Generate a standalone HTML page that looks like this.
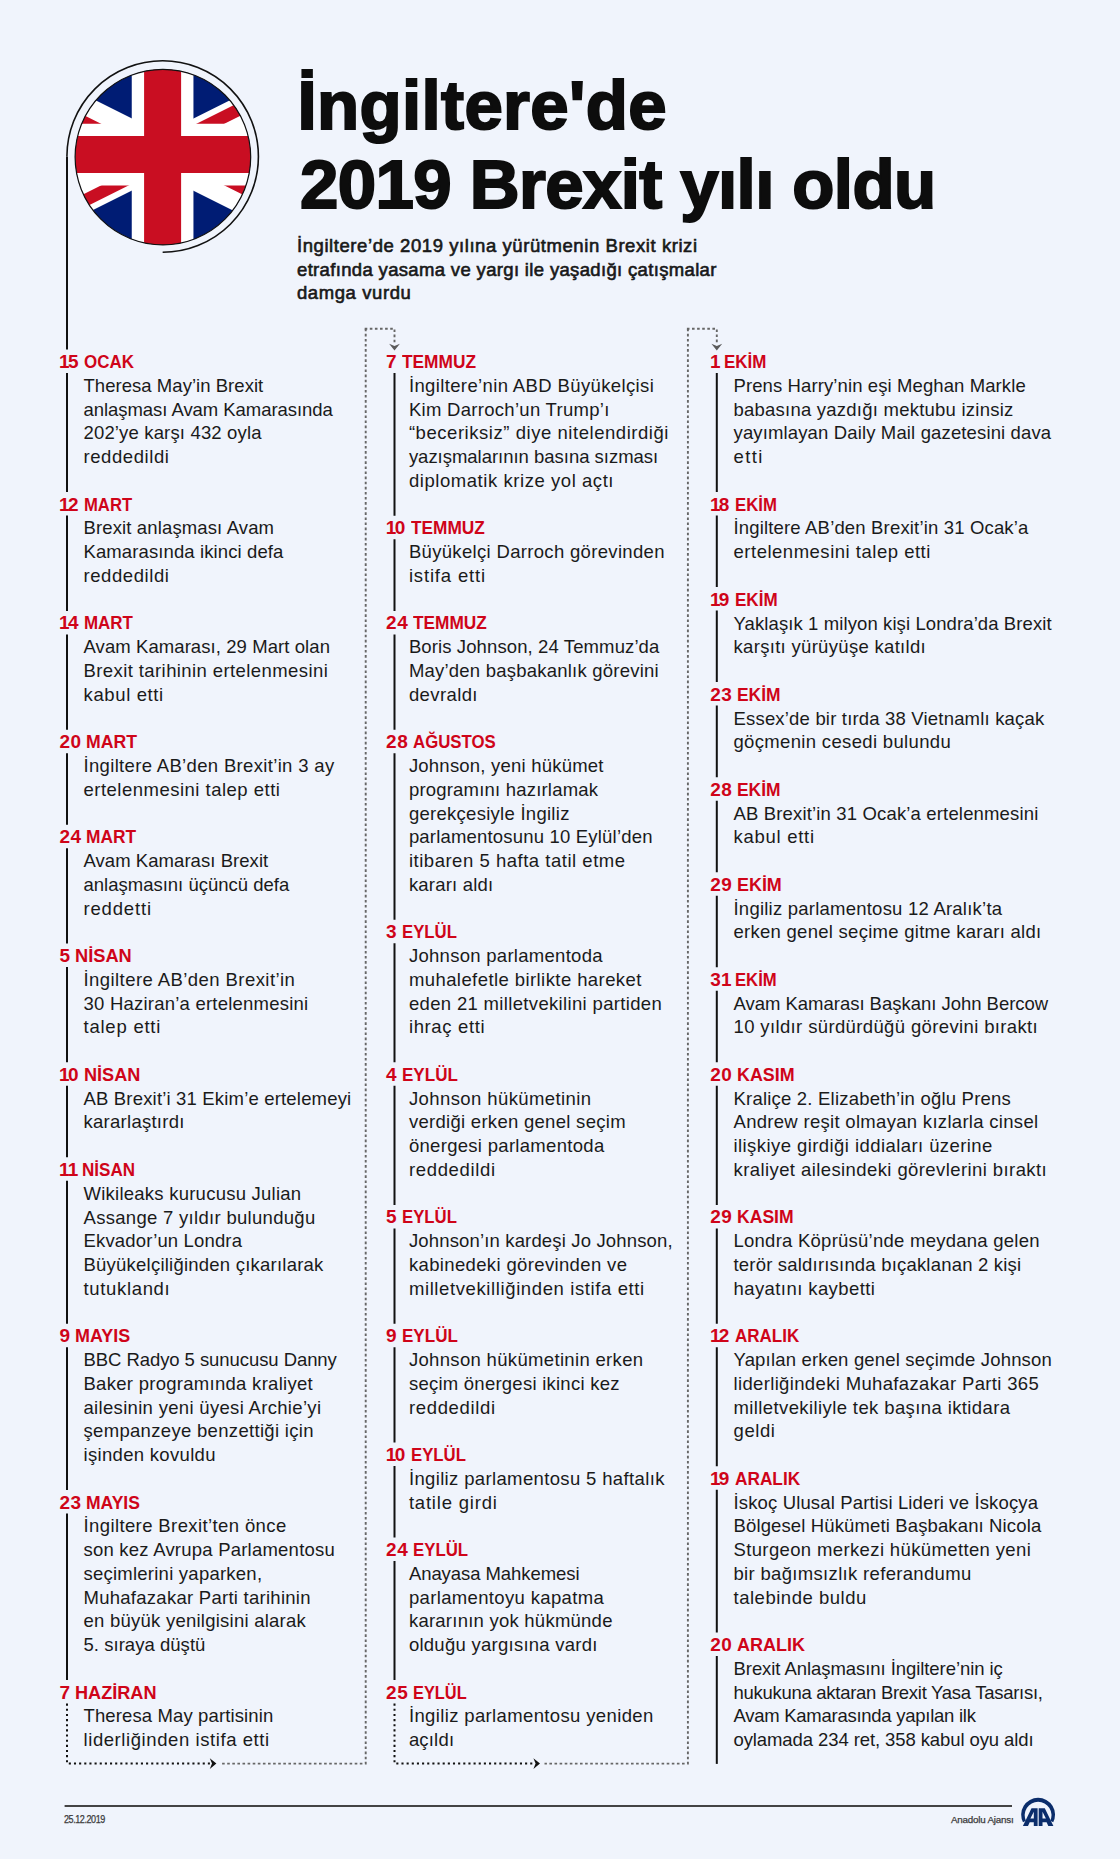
<!DOCTYPE html>
<html><head><meta charset="utf-8"><style>
html,body{margin:0;padding:0}
body{width:1120px;height:1859px;position:relative;overflow:hidden;background:#f0f4fc;font-family:"Liberation Sans",sans-serif;}
.d,.t,.h,.s,.f{position:absolute;white-space:nowrap;line-height:1}
.d{font-weight:bold;font-size:19px;word-spacing:-0.4px;color:#cf0419}
.n{letter-spacing:0.5px}
.one{letter-spacing:-1.6px;margin-left:-0.3px}
.t{font-size:18.5px;color:#1a1a1a}
.h{font-weight:bold;font-size:69px;-webkit-text-stroke:2px #0d0d0d;color:#0d0d0d}
.s{font-size:18.5px;-webkit-text-stroke:0.6px #161616;color:#1a1a1a}
.f{font-size:9.8px;color:#3a3a3a;-webkit-text-stroke:0.25px #3a3a3a}
svg{position:absolute;left:0;top:0}
</style></head><body>
<svg width="1120" height="1859" viewBox="0 0 1120 1859">

<clipPath id="cc"><circle cx="162.9" cy="157.1" r="87.8"/></clipPath>
<clipPath id="t"><path d="M30,15 h30 v15 z v15 h-30 z h-30 v-15 z v-15 h30 z"/></clipPath>
<g clip-path="url(#cc)">
<g transform="translate(-22.50,62.05) scale(6.17)">
<rect x="-5" y="-5" width="70" height="40" fill="#001c74"/>
<path d="M0,0 L60,30 M60,0 L0,30" stroke="#fff" stroke-width="6"/>
<path d="M0,0 L60,30 M60,0 L0,30" clip-path="url(#t)" stroke="#c90e22" stroke-width="4"/>
<path d="M30,-5 v40 M-5,15 h70" stroke="#fff" stroke-width="10"/>
<path d="M30,-5 v40 M-5,15 h70" stroke="#c90e22" stroke-width="6"/>
</g></g>
<circle cx="162.9" cy="157.1" r="87.8" fill="none" stroke="#111" stroke-width="1.2"/>
<path d="M162.65 252.3A95.75 95.75 0 1 0 66.9 156.55" fill="none" stroke="#111" stroke-width="1.6"/>

<path d="M67.0 156.6V349.5 M67.0 373.0V492.1 M67.0 515.6V610.9 M67.0 634.4V729.7 M67.0 753.2V824.7 M67.0 848.2V943.5 M67.0 967.0V1062.3 M67.0 1085.8V1157.3 M67.0 1180.8V1323.7 M67.0 1347.2V1490.0 M67.0 1513.5V1680.1" stroke="#111" stroke-width="2" fill="none"/><path d="M67.0 1703.6V1763.6H209.9" stroke="#111" stroke-width="2" stroke-dasharray="2.1 3.05" fill="none"/><path d="M209.8 1758.3L216.4 1763.6L209.8 1768.8999999999999L212.0 1763.6Z" fill="#111"/><path d="M365.7 328.7V1763.6H220.9" stroke="#666" stroke-width="1.9" stroke-dasharray="2.6 2.5" fill="none"/><path d="M364.7 328.7H394.5V343" stroke="#666" stroke-width="1.9" stroke-dasharray="2.6 2.5" fill="none"/><path d="M389.1 343.7L394.5 350.5L399.9 343.7L394.5 346.1Z" fill="#5a5a5a"/><path d="M394.5 373.0V515.8 M394.5 539.3V610.9 M394.5 634.4V729.7 M394.5 753.2V919.7 M394.5 943.2V1062.3 M394.5 1085.8V1204.9 M394.5 1228.4V1323.7 M394.5 1347.2V1442.5 M394.5 1466.0V1537.5 M394.5 1561.0V1680.1" stroke="#111" stroke-width="2" fill="none"/><path d="M394.5 1703.6V1763.6H533.5" stroke="#111" stroke-width="2" stroke-dasharray="2.1 3.05" fill="none"/><path d="M533.4 1758.3L540.0 1763.6L533.4 1768.8999999999999L535.6 1763.6Z" fill="#111"/><path d="M687.9 328.7V1763.6H544.5" stroke="#666" stroke-width="1.9" stroke-dasharray="2.6 2.5" fill="none"/><path d="M686.9 328.7H716.8V343" stroke="#666" stroke-width="1.9" stroke-dasharray="2.6 2.5" fill="none"/><path d="M711.4 343.7L716.8 350.5L722.1999999999999 343.7L716.8 346.1Z" fill="#5a5a5a"/><path d="M716.8 373.0V492.1 M716.8 515.6V587.1 M716.8 610.6V682.1 M716.8 705.6V777.2 M716.8 800.7V872.2 M716.8 895.7V967.3 M716.8 990.8V1062.3 M716.8 1085.8V1204.9 M716.8 1228.4V1323.7 M716.8 1347.2V1466.2 M716.8 1489.7V1632.5" stroke="#111" stroke-width="2" fill="none"/><path d="M716.8 1656.0V1763.9" stroke="#111" stroke-width="2" fill="none"/>

<path d="M64.6 1805.9H1012" stroke="#444" stroke-width="2"/>


<g fill="#0b2d6b">
<path d="M1023 1822.3 A16.9 16.9 0 1 1 1053.2 1822.3 L1050.3 1820.7 A13.4 13.4 0 1 0 1025.9 1820.7 Z"/>
<path d="M1022.9 1825.9 L1031.5 1808.2 L1037.6 1808.2 L1037.6 1825.9 L1033.8 1825.9 L1033.8 1822.2 L1029.7 1822.2 L1028 1825.9 Z M1030.4 1818.6 L1033.8 1818.6 L1033.8 1811.8 Z"/>
<path d="M1053.4 1825.9 L1044.8 1808.2 L1038.7 1808.2 L1038.7 1825.9 L1042.5 1825.9 L1042.5 1822.2 L1046.6 1822.2 L1048.3 1825.9 Z M1045.9 1818.6 L1042.5 1818.6 L1042.5 1811.8 Z"/>
</g>

</svg>
<div class="h" style="left:297.5px;letter-spacing:0.35px;top:71.2px">İngiltere'de</div>
<div class="h" style="left:300px;letter-spacing:-0.6px;top:150.2px">2019 Brexit yılı oldu</div>
<div class="s" style="left:297px;letter-spacing:0.57px;top:237.34px">İngiltere’de 2019 yılına yürütmenin Brexit krizi</div>
<div class="s" style="left:297px;letter-spacing:0.34px;top:260.94px">etrafında yasama ve yargı ile yaşadığı çatışmalar</div>
<div class="s" style="left:297px;letter-spacing:0.58px;top:284.44px">damga vurdu</div>
<div class="d" style="left:59.4px;top:352.12px"><span class="n"><span class="one">1</span>5</span> <span style="display:inline-block;transform:scaleX(0.8922);transform-origin:0 50%">OCAK</span></div><div class="t" style="left:83.5px;top:376.90px;letter-spacing:0.042px">Theresa May’in Brexit</div><div class="t" style="left:83.5px;top:400.66px;letter-spacing:-0.048px">anlaşması Avam Kamarasında</div><div class="t" style="left:83.5px;top:424.42px;letter-spacing:0.158px">202’ye karşı 432 oyla</div><div class="t" style="left:83.5px;top:448.18px;letter-spacing:0.577px">reddedildi</div><div class="d" style="left:59.4px;top:494.68px"><span class="n"><span class="one">1</span>2</span> <span style="display:inline-block;transform:scaleX(0.8765);transform-origin:0 50%">MART</span></div><div class="t" style="left:83.5px;top:519.46px;letter-spacing:0.134px">Brexit anlaşması Avam</div><div class="t" style="left:83.5px;top:543.22px;letter-spacing:0.110px">Kamarasında ikinci defa</div><div class="t" style="left:83.5px;top:566.98px;letter-spacing:0.577px">reddedildi</div><div class="d" style="left:59.4px;top:613.48px"><span class="n"><span class="one">1</span>4</span> <span style="display:inline-block;transform:scaleX(0.8922);transform-origin:0 50%">MART</span></div><div class="t" style="left:83.5px;top:638.26px;letter-spacing:0.079px">Avam Kamarası, 29 Mart olan</div><div class="t" style="left:83.5px;top:662.02px;letter-spacing:0.409px">Brexit tarihinin ertelenmesini</div><div class="t" style="left:83.5px;top:685.78px;letter-spacing:0.630px">kabul etti</div><div class="d" style="left:59.4px;top:732.28px"><span class="n">20</span> <span style="display:inline-block;transform:scaleX(0.9274);transform-origin:0 50%">MART</span></div><div class="t" style="left:83.5px;top:757.06px;letter-spacing:0.334px">İngiltere AB’den Brexit’in 3 ay</div><div class="t" style="left:83.5px;top:780.82px;letter-spacing:0.491px">ertelenmesini talep etti</div><div class="d" style="left:59.4px;top:827.32px"><span class="n">24</span> <span style="display:inline-block;transform:scaleX(0.9117);transform-origin:0 50%">MART</span></div><div class="t" style="left:83.5px;top:852.10px;letter-spacing:0.053px">Avam Kamarası Brexit</div><div class="t" style="left:83.5px;top:875.86px;letter-spacing:0.001px">anlaşmasını üçüncü defa</div><div class="t" style="left:83.5px;top:899.62px;letter-spacing:0.836px">reddetti</div><div class="d" style="left:59.4px;top:946.12px"><span class="n">5</span> <span style="display:inline-block;transform:scaleX(0.9595);transform-origin:0 50%">NİSAN</span></div><div class="t" style="left:83.5px;top:970.90px;letter-spacing:0.432px">İngiltere AB’den Brexit’in</div><div class="t" style="left:83.5px;top:994.66px;letter-spacing:0.224px">30 Haziran’a ertelenmesini</div><div class="t" style="left:83.5px;top:1018.42px;letter-spacing:0.772px">talep etti</div><div class="d" style="left:59.4px;top:1064.92px"><span class="n"><span class="one">1</span>0</span> <span style="display:inline-block;transform:scaleX(0.9532);transform-origin:0 50%">NİSAN</span></div><div class="t" style="left:83.5px;top:1089.70px;letter-spacing:0.178px">AB Brexit’i 31 Ekim’e ertelemeyi</div><div class="t" style="left:83.5px;top:1113.46px;letter-spacing:0.270px">kararlaştırdı</div><div class="d" style="left:59.4px;top:1159.96px"><span class="n"><span class="one">1</span><span class="one">1</span></span> <span style="display:inline-block;transform:scaleX(0.8969);transform-origin:0 50%">NİSAN</span></div><div class="t" style="left:83.5px;top:1184.74px;letter-spacing:0.243px">Wikileaks kurucusu Julian</div><div class="t" style="left:83.5px;top:1208.50px;letter-spacing:0.300px">Assange 7 yıldır bulunduğu</div><div class="t" style="left:83.5px;top:1232.26px;letter-spacing:0.155px">Ekvador’un Londra</div><div class="t" style="left:83.5px;top:1256.02px;letter-spacing:0.230px">Büyükelçiliğinden çıkarılarak</div><div class="t" style="left:83.5px;top:1279.78px;letter-spacing:0.666px">tutuklandı</div><div class="d" style="left:59.4px;top:1326.28px"><span class="n">9</span> <span style="display:inline-block;transform:scaleX(0.9438);transform-origin:0 50%">MAYIS</span></div><div class="t" style="left:83.5px;top:1351.06px;letter-spacing:-0.068px">BBC Radyo 5 sunucusu Danny</div><div class="t" style="left:83.5px;top:1374.82px;letter-spacing:0.284px">Baker programında kraliyet</div><div class="t" style="left:83.5px;top:1398.58px;letter-spacing:0.318px">ailesinin yeni üyesi Archie’yi</div><div class="t" style="left:83.5px;top:1422.34px;letter-spacing:0.316px">şempanzeye benzettiği için</div><div class="t" style="left:83.5px;top:1446.10px;letter-spacing:0.316px">işinden kovuldu</div><div class="d" style="left:59.4px;top:1492.60px"><span class="n">23</span> <span style="display:inline-block;transform:scaleX(0.9219);transform-origin:0 50%">MAYIS</span></div><div class="t" style="left:83.5px;top:1517.38px;letter-spacing:0.390px">İngiltere Brexit’ten önce</div><div class="t" style="left:83.5px;top:1541.14px;letter-spacing:0.224px">son kez Avrupa Parlamentosu</div><div class="t" style="left:83.5px;top:1564.90px;letter-spacing:0.238px">seçimlerini yaparken,</div><div class="t" style="left:83.5px;top:1588.66px;letter-spacing:0.267px">Muhafazakar Parti tarihinin</div><div class="t" style="left:83.5px;top:1612.42px;letter-spacing:0.242px">en büyük yenilgisini alarak</div><div class="t" style="left:83.5px;top:1636.18px;letter-spacing:0.036px">5. sıraya düştü</div><div class="d" style="left:59.4px;top:1682.68px"><span class="n">7</span> <span style="display:inline-block;transform:scaleX(0.9537);transform-origin:0 50%">HAZİRAN</span></div><div class="t" style="left:83.5px;top:1707.46px;letter-spacing:0.123px">Theresa May partisinin</div><div class="t" style="left:83.5px;top:1731.22px;letter-spacing:0.580px">liderliğinden istifa etti</div><div class="d" style="left:386.1px;top:352.12px"><span class="n">7</span> <span style="display:inline-block;transform:scaleX(0.9104);transform-origin:0 50%">TEMMUZ</span></div><div class="t" style="left:408.9px;top:376.90px;letter-spacing:0.373px">İngiltere’nin ABD Büyükelçisi</div><div class="t" style="left:408.9px;top:400.66px;letter-spacing:0.295px">Kim Darroch’un Trump’ı</div><div class="t" style="left:408.9px;top:424.42px;letter-spacing:0.545px">“beceriksiz” diye nitelendirdiği</div><div class="t" style="left:408.9px;top:448.18px;letter-spacing:-0.021px">yazışmalarının basına sızması</div><div class="t" style="left:408.9px;top:471.94px;letter-spacing:0.557px">diplomatik krize yol açtı</div><div class="d" style="left:386.1px;top:518.44px"><span class="n"><span class="one">1</span>0</span> <span style="display:inline-block;transform:scaleX(0.9078);transform-origin:0 50%">TEMMUZ</span></div><div class="t" style="left:408.9px;top:543.22px;letter-spacing:0.325px">Büyükelçi Darroch görevinden</div><div class="t" style="left:408.9px;top:566.98px;letter-spacing:0.830px">istifa etti</div><div class="d" style="left:386.1px;top:613.48px"><span class="n">24</span> <span style="display:inline-block;transform:scaleX(0.9078);transform-origin:0 50%">TEMMUZ</span></div><div class="t" style="left:408.9px;top:638.26px;letter-spacing:0.113px">Boris Johnson, 24 Temmuz’da</div><div class="t" style="left:408.9px;top:662.02px;letter-spacing:0.224px">May’den başbakanlık görevini</div><div class="t" style="left:408.9px;top:685.78px;letter-spacing:0.401px">devraldı</div><div class="d" style="left:386.1px;top:732.28px"><span class="n">28</span> <span style="display:inline-block;transform:scaleX(0.8843);transform-origin:0 50%">AĞUSTOS</span></div><div class="t" style="left:408.9px;top:757.06px;letter-spacing:0.218px">Johnson, yeni hükümet</div><div class="t" style="left:408.9px;top:780.82px;letter-spacing:0.202px">programını hazırlamak</div><div class="t" style="left:408.9px;top:804.58px;letter-spacing:0.276px">gerekçesiyle İngiliz</div><div class="t" style="left:408.9px;top:828.34px;letter-spacing:0.190px">parlamentosunu 10 Eylül’den</div><div class="t" style="left:408.9px;top:852.10px;letter-spacing:0.522px">itibaren 5 hafta tatil etme</div><div class="t" style="left:408.9px;top:875.86px;letter-spacing:0.206px">kararı aldı</div><div class="d" style="left:386.1px;top:922.36px"><span class="n">3</span> <span style="display:inline-block;transform:scaleX(0.8812);transform-origin:0 50%">EYLÜL</span></div><div class="t" style="left:408.9px;top:947.14px;letter-spacing:0.285px">Johnson parlamentoda</div><div class="t" style="left:408.9px;top:970.90px;letter-spacing:0.423px">muhalefetle birlikte hareket</div><div class="t" style="left:408.9px;top:994.66px;letter-spacing:0.339px">eden 21 milletvekilini partiden</div><div class="t" style="left:408.9px;top:1018.42px;letter-spacing:0.639px">ihraç etti</div><div class="d" style="left:386.1px;top:1064.92px"><span class="n">4</span> <span style="display:inline-block;transform:scaleX(0.8969);transform-origin:0 50%">EYLÜL</span></div><div class="t" style="left:408.9px;top:1089.70px;letter-spacing:0.408px">Johnson hükümetinin</div><div class="t" style="left:408.9px;top:1113.46px;letter-spacing:0.287px">verdiği erken genel seçim</div><div class="t" style="left:408.9px;top:1137.22px;letter-spacing:0.302px">önergesi parlamentoda</div><div class="t" style="left:408.9px;top:1160.98px;letter-spacing:0.666px">reddedildi</div><div class="d" style="left:386.1px;top:1207.48px"><span class="n">5</span> <span style="display:inline-block;transform:scaleX(0.8812);transform-origin:0 50%">EYLÜL</span></div><div class="t" style="left:408.9px;top:1232.26px;letter-spacing:0.156px">Johnson’ın kardeşi Jo Johnson,</div><div class="t" style="left:408.9px;top:1256.02px;letter-spacing:0.359px">kabinedeki görevinden ve</div><div class="t" style="left:408.9px;top:1279.78px;letter-spacing:0.611px">milletvekilliğinden istifa etti</div><div class="d" style="left:386.1px;top:1326.28px"><span class="n">9</span> <span style="display:inline-block;transform:scaleX(0.8969);transform-origin:0 50%">EYLÜL</span></div><div class="t" style="left:408.9px;top:1351.06px;letter-spacing:0.330px">Johnson hükümetinin erken</div><div class="t" style="left:408.9px;top:1374.82px;letter-spacing:0.247px">seçim önergesi ikinci kez</div><div class="t" style="left:408.9px;top:1398.58px;letter-spacing:0.666px">reddedildi</div><div class="d" style="left:386.1px;top:1445.08px"><span class="n"><span class="one">1</span>0</span> <span style="display:inline-block;transform:scaleX(0.8812);transform-origin:0 50%">EYLÜL</span></div><div class="t" style="left:408.9px;top:1469.86px;letter-spacing:0.358px">İngiliz parlamentosu 5 haftalık</div><div class="t" style="left:408.9px;top:1493.62px;letter-spacing:0.797px">tatile girdi</div><div class="d" style="left:386.1px;top:1540.12px"><span class="n">24</span> <span style="display:inline-block;transform:scaleX(0.8843);transform-origin:0 50%">EYLÜL</span></div><div class="t" style="left:408.9px;top:1564.90px;letter-spacing:-0.070px">Anayasa Mahkemesi</div><div class="t" style="left:408.9px;top:1588.66px;letter-spacing:0.348px">parlamentoyu kapatma</div><div class="t" style="left:408.9px;top:1612.42px;letter-spacing:0.241px">kararının yok hükmünde</div><div class="t" style="left:408.9px;top:1636.18px;letter-spacing:0.264px">olduğu yargısına vardı</div><div class="d" style="left:386.1px;top:1682.68px"><span class="n">25</span> <span style="display:inline-block;transform:scaleX(0.8624);transform-origin:0 50%">EYLÜL</span></div><div class="t" style="left:408.9px;top:1707.46px;letter-spacing:0.366px">İngiliz parlamentosu yeniden</div><div class="t" style="left:408.9px;top:1731.22px;letter-spacing:0.182px">açıldı</div><div class="d" style="left:710.2px;top:352.12px"><span class="n"><span class="one">1</span></span> <span style="display:inline-block;transform:scaleX(0.8922);transform-origin:0 50%">EKİM</span></div><div class="t" style="left:733.5px;top:376.90px;letter-spacing:0.103px">Prens Harry’nin eşi Meghan Markle</div><div class="t" style="left:733.5px;top:400.66px;letter-spacing:0.233px">babasına yazdığı mektubu izinsiz</div><div class="t" style="left:733.5px;top:424.42px;letter-spacing:0.141px">yayımlayan Daily Mail gazetesini dava</div><div class="t" style="left:733.5px;top:448.18px;letter-spacing:1.377px">etti</div><div class="d" style="left:710.2px;top:494.68px"><span class="n"><span class="one">1</span>8</span> <span style="display:inline-block;transform:scaleX(0.8804);transform-origin:0 50%">EKİM</span></div><div class="t" style="left:733.5px;top:519.46px;letter-spacing:0.168px">İngiltere AB’den Brexit’in 31 Ocak’a</div><div class="t" style="left:733.5px;top:543.22px;letter-spacing:0.512px">ertelenmesini talep etti</div><div class="d" style="left:710.2px;top:589.72px"><span class="n"><span class="one">1</span>9</span> <span style="display:inline-block;transform:scaleX(0.8961);transform-origin:0 50%">EKİM</span></div><div class="t" style="left:733.5px;top:614.50px;letter-spacing:0.102px">Yaklaşık 1 milyon kişi Londra’da Brexit</div><div class="t" style="left:733.5px;top:638.26px;letter-spacing:0.310px">karşıtı yürüyüşe katıldı</div><div class="d" style="left:710.2px;top:684.76px"><span class="n">23</span> <span style="display:inline-block;transform:scaleX(0.9157);transform-origin:0 50%">EKİM</span></div><div class="t" style="left:733.5px;top:709.54px;letter-spacing:0.186px">Essex’de bir tırda 38 Vietnamlı kaçak</div><div class="t" style="left:733.5px;top:733.30px;letter-spacing:0.335px">göçmenin cesedi bulundu</div><div class="d" style="left:710.2px;top:779.80px"><span class="n">28</span> <span style="display:inline-block;transform:scaleX(0.9157);transform-origin:0 50%">EKİM</span></div><div class="t" style="left:733.5px;top:804.58px;letter-spacing:0.159px">AB Brexit’in 31 Ocak’a ertelenmesini</div><div class="t" style="left:733.5px;top:828.34px;letter-spacing:0.719px">kabul etti</div><div class="d" style="left:710.2px;top:874.84px"><span class="n">29</span> <span style="display:inline-block;transform:scaleX(0.9430);transform-origin:0 50%">EKİM</span></div><div class="t" style="left:733.5px;top:899.62px;letter-spacing:0.230px">İngiliz parlamentosu 12 Aralık’ta</div><div class="t" style="left:733.5px;top:923.38px;letter-spacing:0.271px">erken genel seçime gitme kararı aldı</div><div class="d" style="left:710.2px;top:969.88px"><span class="n">3<span class="one">1</span></span> <span style="display:inline-block;transform:scaleX(0.8765);transform-origin:0 50%">EKİM</span></div><div class="t" style="left:733.5px;top:994.66px;letter-spacing:-0.020px">Avam Kamarası Başkanı John Bercow</div><div class="t" style="left:733.5px;top:1018.42px;letter-spacing:0.368px">10 yıldır sürdürdüğü görevini bıraktı</div><div class="d" style="left:710.2px;top:1064.92px"><span class="n">20</span> <span style="display:inline-block;transform:scaleX(0.9407);transform-origin:0 50%">KASIM</span></div><div class="t" style="left:733.5px;top:1089.70px;letter-spacing:0.206px">Kraliçe 2. Elizabeth’in oğlu Prens</div><div class="t" style="left:733.5px;top:1113.46px;letter-spacing:0.301px">Andrew reşit olmayan kızlarla cinsel</div><div class="t" style="left:733.5px;top:1137.22px;letter-spacing:0.429px">ilişkiye girdiği iddiaları üzerine</div><div class="t" style="left:733.5px;top:1160.98px;letter-spacing:0.411px">kraliyet ailesindeki görevlerini bıraktı</div><div class="d" style="left:710.2px;top:1207.48px"><span class="n">29</span> <span style="display:inline-block;transform:scaleX(0.9250);transform-origin:0 50%">KASIM</span></div><div class="t" style="left:733.5px;top:1232.26px;letter-spacing:0.248px">Londra Köprüsü’nde meydana gelen</div><div class="t" style="left:733.5px;top:1256.02px;letter-spacing:0.196px">terör saldırısında bıçaklanan 2 kişi</div><div class="t" style="left:733.5px;top:1279.78px;letter-spacing:0.420px">hayatını kaybetti</div><div class="d" style="left:710.2px;top:1326.28px"><span class="n"><span class="one">1</span>2</span> <span style="display:inline-block;transform:scaleX(0.8948);transform-origin:0 50%">ARALIK</span></div><div class="t" style="left:733.5px;top:1351.06px;letter-spacing:0.176px">Yapılan erken genel seçimde Johnson</div><div class="t" style="left:733.5px;top:1374.82px;letter-spacing:0.349px">liderliğindeki Muhafazakar Parti 365</div><div class="t" style="left:733.5px;top:1398.58px;letter-spacing:0.392px">milletvekiliyle tek başına iktidara</div><div class="t" style="left:733.5px;top:1422.34px;letter-spacing:0.590px">geldi</div><div class="d" style="left:710.2px;top:1468.84px"><span class="n"><span class="one">1</span>9</span> <span style="display:inline-block;transform:scaleX(0.9078);transform-origin:0 50%">ARALIK</span></div><div class="t" style="left:733.5px;top:1493.62px;letter-spacing:0.144px">İskoç Ulusal Partisi Lideri ve İskoçya</div><div class="t" style="left:733.5px;top:1517.38px;letter-spacing:0.131px">Bölgesel Hükümeti Başbakanı Nicola</div><div class="t" style="left:733.5px;top:1541.14px;letter-spacing:0.367px">Sturgeon merkezi hükümetten yeni</div><div class="t" style="left:733.5px;top:1564.90px;letter-spacing:0.325px">bir bağımsızlık referandumu</div><div class="t" style="left:733.5px;top:1588.66px;letter-spacing:0.521px">talebinde buldu</div><div class="d" style="left:710.2px;top:1635.16px"><span class="n">20</span> <span style="display:inline-block;transform:scaleX(0.9470);transform-origin:0 50%">ARALIK</span></div><div class="t" style="left:733.5px;top:1659.94px;letter-spacing:-0.062px">Brexit Anlaşmasını İngiltere’nin iç</div><div class="t" style="left:733.5px;top:1683.70px;letter-spacing:-0.282px">hukukuna aktaran Brexit Yasa Tasarısı,</div><div class="t" style="left:733.5px;top:1707.46px;letter-spacing:-0.265px">Avam Kamarasında yapılan ilk</div><div class="t" style="left:733.5px;top:1731.22px;letter-spacing:-0.095px">oylamada 234 ret, 358 kabul oyu aldı</div>
<div class="f" style="left:64.2px;top:1814.0px;font-size:10.5px;letter-spacing:-0.5px;transform:scaleX(0.86);transform-origin:0 0">25.12.2019</div>
<div class="f" style="left:950.9px;top:1814.5px;letter-spacing:-0.2px">Anadolu Ajansı</div>
</body></html>
